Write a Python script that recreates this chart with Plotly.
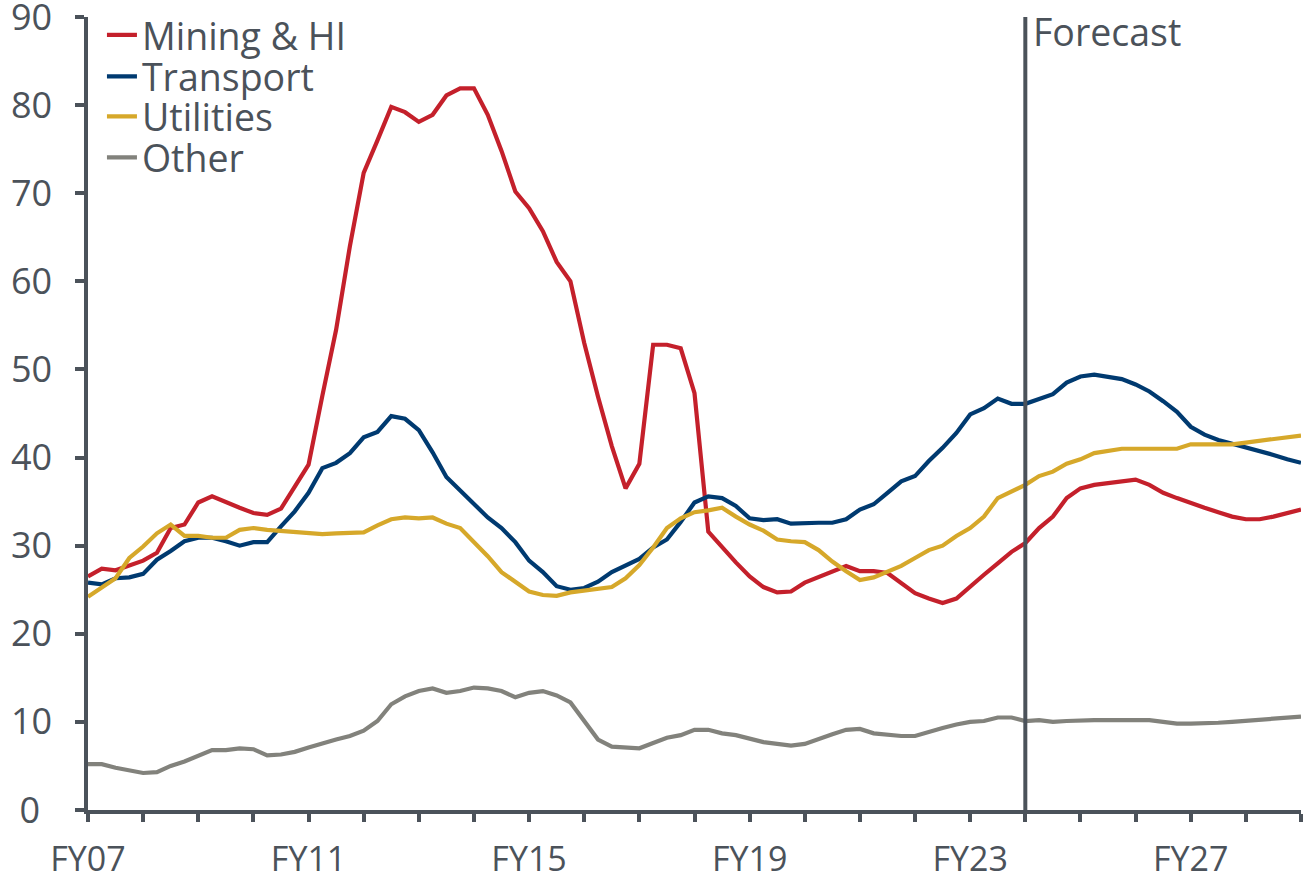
import plotly.graph_objects as go

# Quarterly periods FY07 .. FY29
start_year = 2007
n_quarters = 89
periods = [start_year + i / 4 for i in range(n_quarters)]

mining = [26.5, 27.4, 27.2, 27.7, 28.3, 29.2, 32.0, 32.4, 34.9, 35.6, 34.9, 34.3, 33.7, 33.5, 34.2, 36.7, 39.2, 47.0, 54.5, 64.0, 72.3,
          76.0, 79.8, 79.2, 78.1, 78.9, 81.1, 81.9, 81.9, 78.9, 74.8, 70.2, 68.3, 65.7, 62.2, 60.0, 53.0, 46.9, 41.3, 36.5, 39.3,
          52.8, 52.8, 52.4, 47.3, 31.6,
          29.8, 28.1, 26.5, 25.3, 24.7, 24.8, 25.8, 26.4, 27.1, 27.7, 27.1, 27.1, 26.9, 25.7, 24.6, 24.0, 23.5, 24.0, 25.4, 26.7,
          28.0, 29.3, 30.3, 32.0, 33.3, 35.4, 36.5, 36.9, 37.1, 37.3, 37.5, 36.9, 36.0, 35.4, 34.8, 34.3, 33.8, 33.3, 33.0, 33.0,
          33.3, 33.7, 34.1]

transport = [25.8, 25.6, 26.3, 26.4, 26.8, 28.4, 29.4, 30.5, 30.9, 30.9, 30.5, 30.0, 30.4, 30.4, 32.2, 33.9, 36.0, 38.8, 39.4,
             40.5, 42.3, 42.9, 44.7,
             44.4, 43.1, 40.6, 37.8, 36.3, 34.8, 33.2, 32.0, 30.4, 28.3, 27.0, 25.4, 25.0, 25.2, 25.9, 27.0, 27.8, 28.5, 29.8,
             30.7, 32.7, 34.9, 35.6, 35.4, 34.5, 33.1, 32.9, 33.0, 32.5, 32.6, 32.6, 32.6, 33.0, 34.1, 34.7, 36.0, 37.3, 37.9,
             39.6, 41.1, 42.8, 44.9, 45.6, 46.7, 46.1, 46.1, 46.7, 47.2, 48.5, 49.2, 49.4, 49.2, 48.9, 48.3, 47.5, 46.4, 45.2,
             43.5, 42.6, 42.0, 41.6, 41.1, 40.8, 40.3, 39.8, 39.4]

utilities = [24.2, 25.2, 26.3, 28.6, 29.9, 31.4, 32.4, 31.1, 31.1, 30.9, 30.9, 31.8, 32.0, 31.8, 31.7, 31.5, 31.4, 31.3, 31.4,
             31.4, 31.5, 32.3, 33.0, 33.2, 33.1, 33.2, 32.5, 32.0, 30.4, 28.8, 27.0, 25.9, 24.8, 24.4, 24.3, 24.7, 24.9, 25.1,
             25.3, 26.3, 27.8, 29.8, 32.0, 33.1, 33.8, 34.0, 34.3, 33.3, 32.4, 31.7, 30.7, 30.5, 30.4, 29.5, 28.2, 27.1, 26.1,
             26.4, 27.0, 27.7, 28.6, 29.5, 30.0, 31.1, 32.0, 33.3, 35.4, 36.2, 36.9, 37.9, 38.4, 39.3, 39.8, 40.5, 40.7, 41.0,
             41.0, 41.0, 41.0, 41.0, 41.5, 41.5, 41.5, 41.5, 41.7, 41.9, 42.1, 42.3, 42.5]

other = [5.2, 5.2, 4.8, 4.5, 4.2, 4.3, 5.0, 5.5, 6.1, 6.8, 6.8, 7.0, 6.9, 6.2, 6.3, 6.6, 7.1, 7.6, 8.0, 8.4, 9.0, 10.1, 12.0,
         12.9, 13.5, 13.8, 13.3, 13.5, 13.9, 13.8, 13.5, 12.8, 13.3, 13.5, 13.0, 12.2, 10.1, 8.0, 7.2, 7.1, 7.0, 7.6, 8.2, 8.5,
         9.1, 9.1, 8.7, 8.5, 8.1, 7.7, 7.5, 7.3, 7.5, 8.1, 8.6, 9.1, 9.2, 8.7, 8.5, 8.4, 8.4, 8.9, 9.3, 9.7, 10.0, 10.1, 10.5,
         10.5, 10.1, 10.2, 10.0, 10.1, 10.2, 10.2, 10.2, 10.2, 10.25, 10.2, 10.0, 9.8, 9.8, 9.8, 9.9, 10.0, 10.1, 10.3, 10.4,
         10.5, 10.6]

series_names = ["Mining & HI", "Transport", "Utilities", "Other"]
series_colors = ["#C4202B", "#003A70", "#D6A82A", "#82827C"]
year_ticks = list(range(2007, 2030))
year_labels = [f"FY{str(y)[2:]}" if (y - 2007) % 4 == 0 else "" for y in year_ticks]
y_ticks = [0, 10, 20, 30, 40, 50, 60, 70, 80, 90]
y_labels = ["0\u2009\u2009"] + [str(v) for v in y_ticks[1:]]
forecast_start = 2024
forecast_label = "Forecast"

AX = "#4B525A"
FONT = "Open Sans, Segoe UI, sans-serif"
FS = 36
FS_LEG = 37.5

fig = go.Figure()
legend_ids = ["legend", "legend2", "legend3", "legend4"]
for name, vals, col, lg in zip(series_names, [mining, transport, utilities, other], series_colors, legend_ids):
    fig.add_trace(go.Scatter(x=periods, y=vals, mode="lines", name=name,
                             line=dict(color=col, width=4.2), legend=lg))

fig.add_shape(type="line", xref="x", yref="y", x0=forecast_start, x1=forecast_start, y0=0, y1=90,
              line=dict(color=AX, width=4))
fig.add_annotation(x=forecast_start, y=90, xref="x", yref="y", text=forecast_label, showarrow=False,
                   xanchor="left", yanchor="top", xshift=6, yshift=13,
                   font=dict(family=FONT, size=FS_LEG, color=AX))

plot_top, plot_bottom = 17, 810
H = 882
ph = plot_bottom - plot_top
legend_centers = [35, 76.5, 116.5, 157.5]
leg_layout = {}
for lg, cy in zip(legend_ids, legend_centers):
    leg_layout[lg] = dict(x=0.0115, xanchor="left", y=(plot_bottom - cy) / ph, yanchor="middle",
                          bgcolor="rgba(0,0,0,0)", borderwidth=0,
                          font=dict(family=FONT, size=FS_LEG, color=AX))

fig.update_layout(
    width=1304, height=H,
    margin=dict(l=88, r=3, t=plot_top, b=H - plot_bottom, autoexpand=False),
    paper_bgcolor="white", plot_bgcolor="white",
    showlegend=True,
    font=dict(family=FONT, size=FS, color=AX),
    **leg_layout,
)
fig.update_xaxes(range=[2007, 2029], tickmode="array", tickvals=year_ticks, ticktext=year_labels,
                 showgrid=False, zeroline=False, showline=True, linecolor=AX, linewidth=3.5,
                 ticks="outside", ticklen=8, tickwidth=3.5, tickcolor=AX, automargin=False,
                 ticklabeloverflow="allow",
                 tickfont=dict(family=FONT, size=34, color=AX), ticklabelstandoff=8)
fig.update_yaxes(range=[0, 90], tickmode="array", tickvals=y_ticks, ticktext=y_labels,
                 showgrid=False, zeroline=False, showline=True, linecolor=AX, linewidth=3.5,
                 ticks="outside", ticklen=9, tickwidth=3.5, tickcolor=AX, automargin=False,
                 ticklabeloverflow="allow",
                 tickfont=dict(family=FONT, size=FS, color=AX), ticklabelstandoff=16)

fig.write_html("out.html", config={"displayModeBar": False},
               post_script="document.body.style.margin='0px';document.body.style.overflow='hidden';")
